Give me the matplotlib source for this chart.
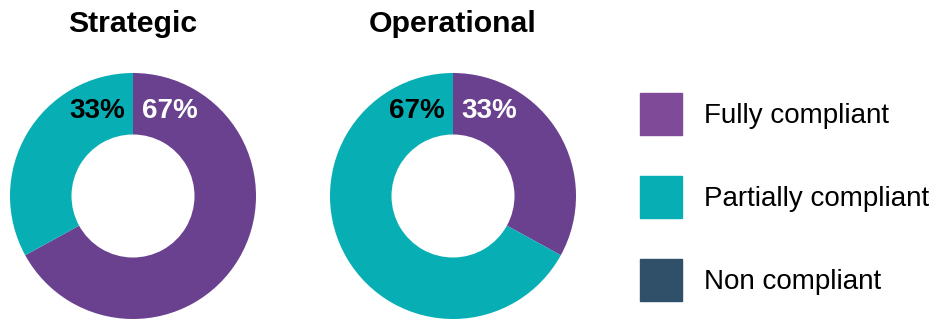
import matplotlib
matplotlib.use('Agg')
import matplotlib.pyplot as plt
import matplotlib.patches as mpatches

plt.rcParams['font.family'] = ['Liberation Sans', 'DejaVu Sans']

# ── Data ──────────────────────────────────────────────────────────────────────
CATEGORIES  = ['Fully compliant', 'Partially compliant', 'Non compliant']
PANELS      = ['Strategic', 'Operational']
STRATEGIC   = [67, 33, 0]
OPERATIONAL = [33, 67, 0]

# ── Style ─────────────────────────────────────────────────────────────────────
W_COLORS   = ['#6a418f', '#07afb5', '#2f5068']   # wedge colours
LEG_COLORS = ['#7f4a98', '#07afb5', '#2f5068']   # legend swatches
TXT_COLORS = ['white', 'black', 'white']

W, H = 937, 321
fig = plt.figure(figsize=(W / 100, H / 100), dpi=100, facecolor='white')

R_PX = 123
centers = [(133, 196), (453, 196)]

for name, vals, (cx, cy) in zip(PANELS, [STRATEGIC, OPERATIONAL], centers):
    ax = fig.add_axes([(cx - R_PX) / W, (H - cy - R_PX) / H,
                       2 * R_PX / W, 2 * R_PX / H])
    ax.pie(vals, colors=W_COLORS, startangle=90, counterclock=False,
           radius=1.0, wedgeprops=dict(width=0.5, linewidth=0))
    ax.set_xlim(-1, 1)
    ax.set_ylim(-1, 1)
    ax.set_aspect('equal')
    ax.axis('off')

    total = sum(vals)
    # first wedge label sits right of 12 o'clock, second one left of it
    ax.text(0.07, 0.69, f'{vals[0] / total * 100:.0f}%', ha='left', va='center',
            fontsize=20, fontweight='bold', color=TXT_COLORS[0])
    ax.text(-0.065, 0.69, f'{vals[1] / total * 100:.0f}%', ha='right', va='center',
            fontsize=20, fontweight='bold', color=TXT_COLORS[1])

    fig.text(cx / W, (H - 24) / H, name, ha='center', va='center',
             fontsize=21.8, fontweight='bold', color='black')

handles = [mpatches.Patch(color=c, label=l) for c, l in zip(LEG_COLORS, CATEGORIES)]
fig.legend(handles=handles, loc='upper left',
           bbox_to_anchor=(640 / W, (H - 93) / H), frameon=False,
           fontsize=20, handlelength=1.51, handleheight=1.95,
           handletextpad=0.8, labelspacing=1.48,
           borderpad=0, borderaxespad=0)

fig.savefig('out.png', dpi=100, facecolor='white')
